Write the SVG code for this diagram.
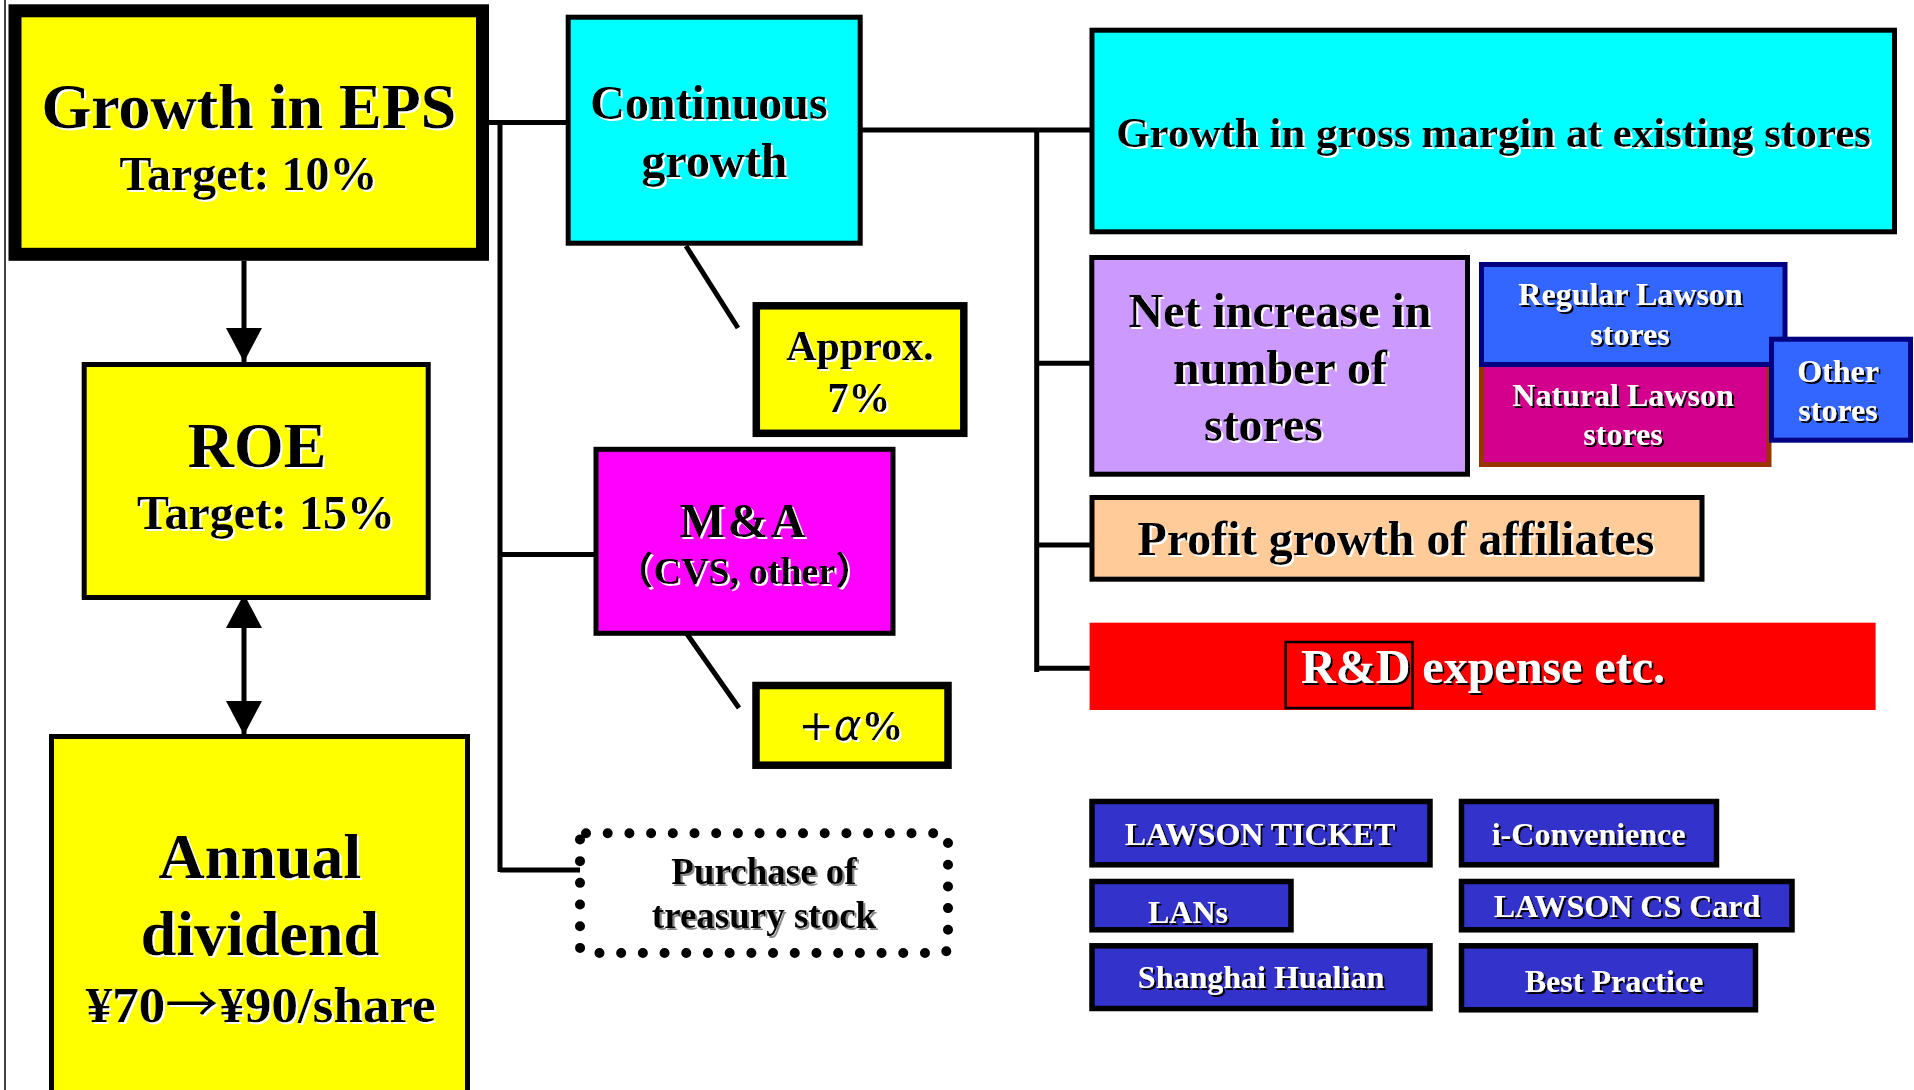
<svg xmlns="http://www.w3.org/2000/svg" width="1914" height="1090" viewBox="0 0 1914 1090">
<defs>
<style>
text{font-family:"Liberation Serif","Times New Roman",serif;font-weight:bold;text-anchor:middle}
.bk{fill:#000;filter:url(#sw)}
.wt{fill:#fff;filter:url(#sb)}
.gy{fill:#000;filter:url(#sg)}
.ln{stroke:#000;stroke-width:5;fill:none}
.bx{stroke:#000;stroke-width:5}
.bb{fill:#3333CC;stroke:#000;stroke-width:5.5}
</style>
<filter id="sw" x="-5%" y="-20%" width="110%" height="140%"><feDropShadow dx="2" dy="2" stdDeviation="0.3" flood-color="#fff" flood-opacity="1"/></filter>
<filter id="sb" x="-5%" y="-20%" width="110%" height="140%"><feDropShadow dx="2" dy="2" stdDeviation="0.3" flood-color="#000" flood-opacity="1"/></filter>
<filter id="sg" x="-5%" y="-20%" width="110%" height="140%"><feDropShadow dx="2" dy="2" stdDeviation="0.6" flood-color="#888" flood-opacity="1"/></filter>
<marker id="ah" markerUnits="userSpaceOnUse" markerWidth="34" markerHeight="36" viewBox="0 0 34 36" refX="34" refY="18" orient="auto-start-reverse"><path d="M0,0 L34,18 L0,36 Z" fill="#000"/></marker>
</defs>
<rect x="0" y="0" width="1914" height="1090" fill="#fff"/>
<line x1="5" y1="0" x2="5" y2="1090" stroke="#444" stroke-width="2"/>

<g id="connectors">
<line class="ln" x1="487" y1="122.5" x2="568" y2="122.5"/>
<line class="ln" x1="500" y1="122.5" x2="500" y2="872"/>
<line class="ln" x1="500" y1="554.5" x2="596" y2="554.5"/>
<line class="ln" x1="500" y1="870" x2="580" y2="870"/>
<line class="ln" x1="862" y1="130" x2="1092" y2="130"/>
<line class="ln" x1="1036.7" y1="130" x2="1036.7" y2="672"/>
<line class="ln" x1="1036.7" y1="363.3" x2="1092" y2="363.3"/>
<line class="ln" x1="1036.7" y1="545" x2="1092" y2="545"/>
<line class="ln" x1="1036.7" y1="668.3" x2="1090" y2="668.3"/>
<line class="ln" stroke-width="6" x1="686" y1="246" x2="738" y2="328"/>
<line class="ln" stroke-width="6" x1="687" y1="634" x2="739" y2="708"/>
<line class="ln" stroke-width="7.5" x1="244" y1="261" x2="244" y2="362" marker-end="url(#ah)"/>
<line class="ln" stroke-width="7.5" x1="244" y1="594" x2="244" y2="735" marker-start="url(#ah)" marker-end="url(#ah)"/>
</g>

<g id="eps">
<rect x="15" y="10.8" width="467.5" height="243.5" fill="#FFFF00" stroke="#000" stroke-width="13"/>
<text class="bk" x="249" y="128" font-size="64">Growth in EPS</text>
<text class="bk" x="248.5" y="190" font-size="48">Target: 10%</text>
</g>

<g id="roe">
<rect class="bx" x="84.2" y="364.5" width="344" height="233" fill="#FFFF00"/>
<text class="bk" x="257" y="467" font-size="64">ROE</text>
<text class="bk" x="266" y="529" font-size="48">Target: 15%</text>
</g>

<g id="dividend">
<rect class="bx" x="51.5" y="736.5" width="416" height="380" fill="#FFFF00"/>
<text class="bk" x="260" y="878" font-size="64">Annual</text>
<text class="bk" x="260" y="955" font-size="64">dividend</text>
<text class="bk" x="260.7" y="1022" font-size="50" textLength="350" lengthAdjust="spacingAndGlyphs">¥70<tspan style="font-family:'Noto Sans CJK JP',sans-serif;font-weight:normal">→</tspan>¥90/share</text>
</g>

<g id="continuous">
<rect class="bx" x="568.2" y="17.2" width="292" height="226" fill="#00FFFF"/>
<text class="bk" x="709" y="119" font-size="48">Continuous</text>
<text class="bk" x="714.5" y="177" font-size="48">growth</text>
</g>

<g id="approx">
<rect x="756.3" y="305.8" width="207.5" height="127.5" fill="#FFFF00" stroke="#000" stroke-width="7.5"/>
<text class="bk" x="860" y="360" font-size="42">Approx.</text>
<text class="bk" x="859" y="411.7" font-size="42">7%</text>
</g>

<g id="ma">
<rect class="bx" x="596" y="449.3" width="297" height="184" fill="#FF00FF"/>
<text class="bk" x="744" y="537" font-size="48" letter-spacing="3">M&amp;A</text>
<text class="bk" x="744.5" y="584" font-size="38" style="font-family:'Liberation Serif','Noto Sans CJK JP',serif">（CVS, other）</text>
</g>

<g id="alpha">
<rect x="756" y="685.5" width="192" height="79.7" fill="#FFFF00" stroke="#000" stroke-width="7.5"/>
<text class="bk" x="851" y="740" font-size="42"><tspan style="font-family:'DejaVu Sans',sans-serif;font-weight:normal">+</tspan><tspan style="font-family:'DejaVu Sans',sans-serif;font-weight:normal;font-style:italic">α</tspan>%</text>
</g>

<g id="treasury">
<rect x="580" y="833.3" width="368" height="119.7" rx="6" fill="none" stroke="#000" stroke-width="10" stroke-linecap="round" stroke-dasharray="0 21.7"/>
<text class="gy" x="764" y="883.6" font-size="37">Purchase of</text>
<text class="gy" x="764" y="928" font-size="37">treasury stock</text>
</g>

<g id="grossmargin">
<rect class="bx" x="1092" y="30.2" width="802.5" height="201.6" fill="#00FFFF"/>
<text class="bk" x="1493.6" y="146.7" font-size="43">Growth in gross margin at existing stores</text>
</g>

<g id="netincrease">
<rect class="bx" x="1091.8" y="257.5" width="375.7" height="216.7" fill="#CC99FF"/>
<text class="bk" x="1280" y="326.7" font-size="48">Net increase in</text>
<text class="bk" x="1280" y="384" font-size="48">number of</text>
<text class="bk" x="1263.5" y="440.7" font-size="48">stores</text>
</g>

<g id="natural">
<rect x="1481.5" y="364" width="287.5" height="100.5" fill="#D2008C" stroke="#993300" stroke-width="5"/>
<text class="wt" x="1623" y="406" font-size="32">Natural Lawson</text>
<text class="wt" x="1623" y="445" font-size="32">stores</text>
</g>

<g id="regular">
<rect x="1481.5" y="264.5" width="303.5" height="100" fill="#3366FF" stroke="#000080" stroke-width="5"/>
<text class="wt" x="1630.5" y="305" font-size="32">Regular Lawson</text>
<text class="wt" x="1630" y="345" font-size="32">stores</text>
</g>

<g id="other">
<rect x="1771.5" y="339.2" width="139" height="101" fill="#3366FF" stroke="#000080" stroke-width="5"/>
<text class="wt" x="1838" y="381.7" font-size="32">Other</text>
<text class="wt" x="1838" y="420.7" font-size="32">stores</text>
</g>

<g id="profit">
<rect class="bx" x="1092" y="497.5" width="610" height="81.7" fill="#FFCC99"/>
<text class="bk" x="1396" y="555" font-size="48">Profit growth of affiliates</text>
</g>

<g id="rnd">
<rect x="1089.6" y="622.7" width="786" height="87.3" fill="#FF0000"/>
<rect x="1285.7" y="642" width="126.8" height="66" fill="none" stroke="#000" stroke-width="2.5"/>
<text class="wt" x="1483" y="683" font-size="48">R&amp;D expense etc.</text>
</g>

<g id="ticket">
<rect class="bb" x="1092" y="801.5" width="338" height="63.3"/>
<text class="wt" x="1260" y="845" font-size="32">LAWSON TICKET</text>
</g>
<g id="iconv">
<rect class="bb" x="1461.5" y="801.5" width="255" height="63.3"/>
<text class="wt" x="1588.6" y="845" font-size="32">i-Convenience</text>
</g>
<g id="lans">
<rect class="bb" x="1092" y="881.5" width="199" height="48.3"/>
<text class="wt" x="1188" y="922.7" font-size="32">LANs</text>
</g>
<g id="cscard">
<rect class="bb" x="1461.5" y="881.5" width="330.5" height="48.3"/>
<text class="wt" x="1627" y="916.7" font-size="32">LAWSON CS Card</text>
</g>
<g id="hualian">
<rect class="bb" x="1092" y="945.8" width="338" height="62.7"/>
<text class="wt" x="1261" y="988.3" font-size="32">Shanghai Hualian</text>
</g>
<g id="bestpractice">
<rect class="bb" x="1461.5" y="945.8" width="294" height="64"/>
<text class="wt" x="1614" y="991.7" font-size="32">Best Practice</text>
</g>
</svg>
